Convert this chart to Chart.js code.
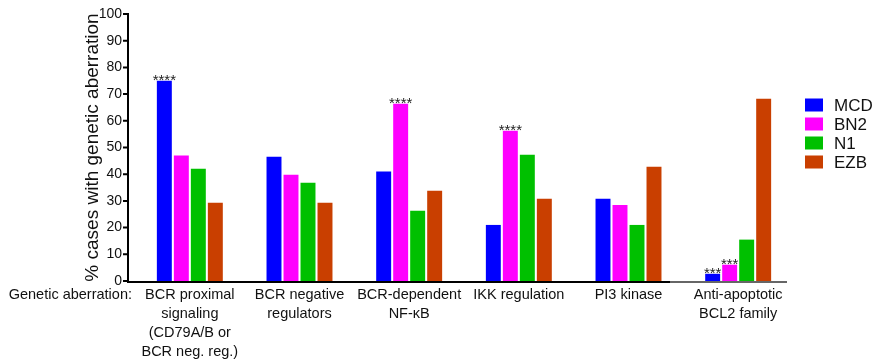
<!DOCTYPE html>
<html>
<head>
<meta charset="utf-8">
<script src="https://cdn.jsdelivr.net/npm/chart.js@4.4.0/dist/chart.umd.min.js"></script>
<style>
  html, body { margin: 0; padding: 0; background: #fff; }
</style>
</head>
<body>
<canvas id="chart" width="872" height="360"></canvas>
<script>
// categories (multi-line labels) and series values
const categories = [
    ['BCR proximal', 'signaling', '(CD79A/B or', 'BCR neg. reg.)'],
    ['BCR negative', 'regulators'],
    ['BCR-dependent', 'NF-\u03BAB'],
    'IKK regulation',
    'PI3 kinase',
    ['Anti-apoptotic', 'BCL2 family']
];
const seriesNames = ['MCD', 'BN2', 'N1', 'EZB'];
const seriesColors = ['#0000ff', '#ff00ff', '#00c000', '#c93f00'];
const mcd = [75, 46.5, 41, 21, 30.8, 2.7];
const bn2 = [47, 39.8, 66.4, 56.3, 28.5, 6.1];
const n1 = [42, 36.8, 26.3, 47.3, 21, 15.5];
const ezb = [29.3, 29.3, 33.8, 30.8, 42.8, 68.3];
// significance marks drawn above bars
const mcdStars = ['****', '', '', '', '', '***'];
const bn2Stars = ['', '', '****', '****', '', '***'];
const n1Stars = ['', '', '', '', '', ''];
const ezbStars = ['', '', '', '', '', ''];
const yTicks = [0, 10, 20, 30, 40, 50, 60, 70, 80, 90, 100];
const rowLabel = 'Genetic aberration:';

const FONT = '"Liberation Sans", Arial, Helvetica, sans-serif';
const allValues = [mcd, bn2, n1, ezb];
const allStars = [mcdStars, bn2Stars, n1Stars, ezbStars];

const extras = {
    id: 'extras',
    afterDraw(chart) {
        const ctx = chart.ctx;
        const area = chart.chartArea;
        const ys = chart.scales.y;
        const xs = chart.scales.x;
        const ax = area.left - 7;
        ctx.save();

        // y axis line + ticks
        ctx.strokeStyle = '#000';
        ctx.lineWidth = 2;
        ctx.beginPath();
        ctx.moveTo(ax, ys.getPixelForValue(100) - 1);
        ctx.lineTo(ax, area.bottom + 2);
        yTicks.forEach(v => {
            const py = ys.getPixelForValue(v);
            ctx.moveTo(ax - 5, py);
            ctx.lineTo(ax, py);
        });
        ctx.stroke();

        // x axis line (fades to grey at the right end as in the figure)
        ctx.beginPath();
        ctx.moveTo(ax - 1, area.bottom + 1);
        ctx.lineTo(670, area.bottom + 1);
        ctx.stroke();
        ctx.strokeStyle = '#666';
        ctx.beginPath();
        ctx.moveTo(670, area.bottom + 1);
        ctx.lineTo(787, area.bottom + 1);
        ctx.stroke();

        // significance stars
        ctx.fillStyle = '#222';
        ctx.font = '15px ' + FONT;
        ctx.textAlign = 'center';
        ctx.textBaseline = 'alphabetic';
        allStars.forEach((stars, di) => {
            const meta = chart.getDatasetMeta(di);
            stars.forEach((s, i) => {
                if (!s) return;
                const bar = meta.data[i];
                ctx.fillText(s, bar.x, bar.y + 4);
            });
        });

        // row label left of category names
        ctx.fillStyle = '#111';
        ctx.font = '14.5px ' + FONT;
        ctx.textAlign = 'right';
        ctx.textBaseline = 'middle';
        ctx.fillText(rowLabel, 132, xs.top + 4 + 9.5);

        // legend
        ctx.font = '17px ' + FONT;
        ctx.textAlign = 'left';
        seriesNames.forEach((name, i) => {
            const cy = 105 + i * 19;
            ctx.fillStyle = seriesColors[i];
            ctx.fillRect(805, cy - 6.5, 18, 13);
            ctx.fillStyle = '#111';
            ctx.fillText(name, 834, cy + 1);
        });
        ctx.restore();
    }
};

new Chart(document.getElementById('chart').getContext('2d'), {
    type: 'bar',
    data: {
        labels: categories,
        datasets: seriesNames.map((name, i) => ({
            label: name,
            data: allValues[i],
            backgroundColor: seriesColors[i],
            borderWidth: 0,
            categoryPercentage: 0.62,
            barPercentage: 0.88
        }))
    },
    options: {
        responsive: false,
        animation: false,
        devicePixelRatio: 1,
        layout: { padding: { left: 80, top: 14, right: 79, bottom: 0 } },
        plugins: {
            legend: { display: false },
            tooltip: { enabled: false }
        },
        scales: {
            x: {
                grid: { display: false, drawTicks: false },
                border: { display: false },
                ticks: {
                    autoSkip: false,
                    maxRotation: 0,
                    padding: 4,
                    color: '#111',
                    font: { family: FONT, size: 14.5, lineHeight: '19px' }
                },
                afterFit(scale) {
                    scale.height = 79;
                    scale.paddingLeft = 0;
                    scale.paddingRight = 0;
                }
            },
            y: {
                min: 0,
                max: 100,
                grid: { display: false, drawTicks: false },
                border: { display: false },
                ticks: {
                    stepSize: 10,
                    padding: 13,
                    color: '#111',
                    font: { family: FONT, size: 14 }
                },
                title: {
                    display: true,
                    text: '% cases with genetic aberration',
                    color: '#111',
                    padding: { top: 1, bottom: 0 },
                    font: { family: FONT, size: 19 }
                },
                afterFit(scale) {
                    scale.width = 55;
                    scale.paddingTop = 0;
                    scale.paddingBottom = 0;
                }
            }
        }
    },
    plugins: [extras]
});
</script>
</body>
</html>
